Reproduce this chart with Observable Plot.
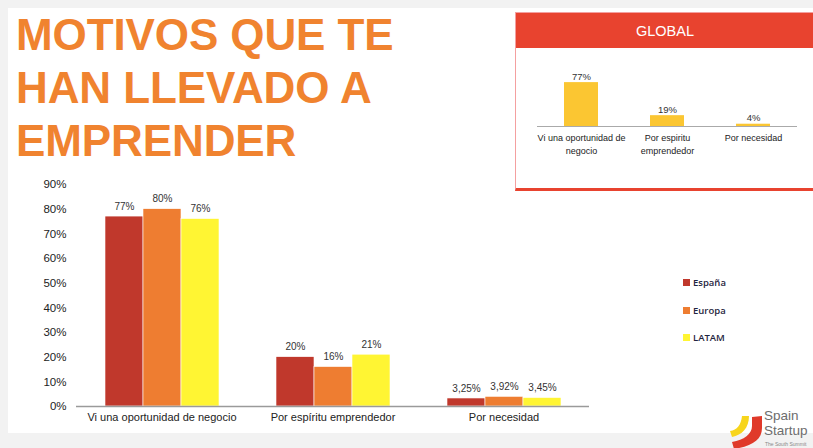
<!DOCTYPE html>
<html><head><meta charset="utf-8">
<script src="https://cdn.jsdelivr.net/npm/d3@7"></script>
<script src="https://cdn.jsdelivr.net/npm/@observablehq/plot@0.6"></script>
<style>
html,body{margin:0;padding:0;}
body{width:813px;height:448px;background:#f2f2f2;position:relative;overflow:hidden;font-family:"Liberation Sans",Arial,sans-serif;}
#slide{position:absolute;left:8px;top:8px;width:805px;height:425px;background:#fff;}
#title{position:absolute;left:16px;top:8px;font-weight:bold;font-size:44px;line-height:53px;color:#f0832f;margin:0;letter-spacing:-0.1px;}
#main{position:absolute;left:0;top:175px;}
#global{position:absolute;left:515px;top:12px;width:310px;height:175px;border-left:1px solid #f4a0a0;border-top:1px solid #f4a0a0;border-bottom:3px solid #e8432f;background:#fff;}
#ghead{height:35px;background:#e8432f;color:#fff;font-size:14.5px;line-height:36px;text-align:center;width:298px;}
#gplot{position:absolute;left:-1px;top:35px;}
#legend{position:absolute;left:683px;top:276px;font-family:"Open Sans",sans-serif;font-size:9.5px;font-weight:600;color:#1f2540;}
.li{position:absolute;left:0;white-space:nowrap;height:14px;line-height:14px;}
.sw{display:inline-block;width:7px;height:7px;margin-right:3px;vertical-align:0px;}
#logo{position:absolute;left:728px;top:404px;}
</style></head>
<body>
<div id="slide"></div>
<h1 id="title">MOTIVOS QUE TE<br>HAN LLEVADO A<br>EMPRENDER</h1>
<div id="main"></div>
<div id="global"><div id="ghead">GLOBAL</div><div id="gplot"></div></div>
<div id="legend"></div>
<svg id="logo" width="90" height="46" viewBox="0 0 90 46">
  <path d="M2 27 C9 26 13 21 14 12 L21 12 C21 24 14 31 4 33 Z" fill="#f7d51c"/>
  <path d="M24 13 L34 12 L34 24 C34 36 24 42 6 45 L4 38 C16 36 24 30 24 22 Z" fill="#e03a2a"/>
  <text x="36" y="16" font-family="Liberation Sans, Arial" font-size="13.5" fill="#6d6d6d">Spain</text>
  <text x="36" y="30.5" font-family="Liberation Sans, Arial" font-size="13.5" fill="#6d6d6d">Startup</text>
  <text x="37" y="41.5" font-family="Liberation Sans, Arial" font-size="5" fill="#888">The South Summit</text>
</svg>
<script>
const categories = ["Vi una oportunidad de negocio", "Por espíritu emprendedor", "Por necesidad"];
const series = ["España", "Europa", "LATAM"];
const espana = [77, 20, 3.25];
const europa = [80, 16, 3.92];
const latam = [76, 21, 3.45];
const seriesColors = ["#c0382c", "#ee7d31", "#fff533"];
const yTicks = [0, 10, 20, 30, 40, 50, 60, 70, 80, 90];

const globalCategories = ["Vi una oportunidad de negocio", "Por espiritu emprendedor", "Por necesidad"];
const globalLabels = ["Vi una oportunidad de\nnegocio", "Por espiritu\nemprendedor", "Por necesidad"];
const globalValues = [77, 19, 4];

const fmt = v => (Number.isInteger(v) ? String(v) : v.toFixed(2).replace(".", ",")) + "%";

const rows = [];
[espana, europa, latam].forEach((vals, si) => {
  vals.forEach((v, ci) => rows.push({cat: categories[ci], serie: series[si], value: v}));
});

const main = Plot.plot({
  width: 592, height: 260,
  marginLeft: 75, marginRight: 2, marginTop: 9, marginBottom: 29,
  style: {fontFamily: "Liberation Sans, Arial, sans-serif", background: "transparent"},
  fx: {domain: categories, padding: 0, label: null},
  x: {domain: series, paddingInner: 0, paddingOuter: 0.75, axis: null},
  y: {domain: [0, 90], label: null},
  color: {domain: series, range: seriesColors},
  marks: [
    Plot.axisY({ticks: yTicks, tickFormat: d => d + "%", tickSize: 0, tickPadding: 10, fontSize: 11.5, fill: "#222", label: null}),
    Plot.axisFx({anchor: "bottom", tickSize: 0, tickPadding: 7, fontSize: 11, fill: "#222", label: null}),
    Plot.barY(rows, {fx: "cat", x: "serie", y: "value", fill: "serie", stroke: "#fff", strokeWidth: 0.6}),
    Plot.ruleY([0], {stroke: "#9a9a9a", strokeWidth: 1.5}),
    Plot.text(rows, {fx: "cat", x: "serie", y: "value", text: d => fmt(d.value), dy: -10, fontSize: 10, fill: "#333"}),
    Plot.axisY({ticks: [], tickSize: 0, line: true, stroke: "#9a9a9a", strokeWidth: 1.5, label: null})
  ]
});
document.getElementById("main").appendChild(main);

const grows = globalCategories.map((c, i) => ({cat: c, label: globalLabels[i], value: globalValues[i]}));
const gplot = Plot.plot({
  width: 298, height: 130,
  marginLeft: 22, marginRight: 16, marginTop: 21, marginBottom: 52,
  style: {fontFamily: "Liberation Sans, Arial, sans-serif", background: "transparent"},
  x: {domain: globalCategories, paddingInner: 0.6, paddingOuter: 0.3, label: null},
  y: {domain: [0, 100], axis: null},
  marks: [
    Plot.barY(grows, {x: "cat", y: "value", fill: "#fbc632"}),
    Plot.ruleY([0], {stroke: "#aaa", strokeWidth: 1}),
    Plot.text(grows, {x: "cat", y: "value", text: d => d.value + "%", dy: -6, fontSize: 9.5, fill: "#333"}),
    Plot.axisX({tickSize: 0, tickPadding: 6, fontSize: 9, fill: "#222", lineHeight: 1.4, label: null,
      tickFormat: c => globalLabels[globalCategories.indexOf(c)]})
  ]
});
document.getElementById("gplot").appendChild(gplot);

const legend = document.getElementById("legend");
const legendTops = [0, 28, 55];
series.forEach((s, i) => {
  const d = document.createElement("div");
  d.className = "li";
  d.style.top = legendTops[i] + "px";
  d.innerHTML = `<span class="sw" style="background:${seriesColors[i]}"></span>${s}`;
  legend.appendChild(d);
});
</script>
</body></html>
